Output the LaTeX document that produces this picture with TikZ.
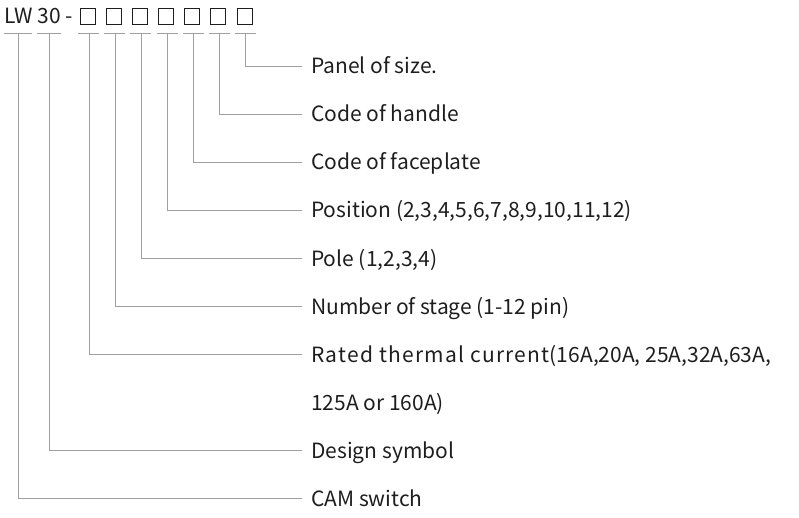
\documentclass[tikz,border=0pt]{standalone}
\usepackage{fontspec}
\setmainfont{Noto Sans CJK SC}
\definecolor{lineg}{HTML}{A0A0A0}
\definecolor{txt}{HTML}{1E1E1E}
\begin{document}
\begin{tikzpicture}[x=1pt,y=-1pt,
  conn/.style={draw=lineg,line width=0.9pt},
  ul/.style={draw=lineg,line width=0.9pt},
  bx/.style={draw=txt,line width=0.9pt},
  lab/.style={anchor=base west,inner sep=0pt,text=txt,font=\fontsize{21}{24}\selectfont}]
\useasboundingbox (0,0) rectangle (799,518);
% header
\node[lab] (hd) at (4,24) {LW 30 -};
\foreach \i in {1,...,7}{
  \pgfmathsetmacro\bxl{80+26.17*(\i-1)}
  \draw[bx] (\bxl,8.5) rectangle ++(15,15.5);
}
% underlines
\draw[ul] (4,33) -- (32,33);
\draw[ul] (37,33) -- (61,33);
\foreach \i in {1,...,7}{
  \pgfmathsetmacro\cx{88.5+26.17*(\i-1)}
  \draw[ul] (\cx-10.5,33) -- (\cx+10.5,33);
}
% tap points
\coordinate (uLW) at (18,33);
\coordinate (u30) at (49,33);
\foreach \i/\n in {1/a,2/b,3/c,4/d,5/e,6/f,7/g}{
  \pgfmathsetmacro\cx{89+26.1*(\i-1)}
  \coordinate (u\n) at (\cx,33);
}
% label ends
\foreach \n/\y in {g/66.5,f/114.5,e/162.5,d/210.5,c/258.5,b/306.5,a/354.5,LW/498.5,30/450.5}{
  \coordinate (e\n) at (302,\y);
}
\node[lab] (tg) at (311,74) {Panel of size.};
\node[lab] (tf) at (311,122) {Code of handle};
\node[lab] (te) at (311,170) {Code of faceplate};
\node[lab] (td) at (311,218) {Position (2,3,4,5,6,7,8,9,10,11,12)};
\node[lab] (tc) at (311,266) {Pole (1,2,3,4)};
\node[lab] (tb) at (311,314) {Number of stage (1-12 pin)};
\node[lab] (ta) at (311,362) {{\addfontfeature{LetterSpace=6}Rated thermal current}(16A,20A, 25A,32A,63A,};
\node[lab] (ta2) at (311,410) {125A or 160A)};
\node[lab] (t30) at (311,458) {Design symbol};
\node[lab] (tLW) at (311,506) {CAM switch};
\foreach \n in {a,b,c,d,e,f,g,30,LW}{
  \draw[conn] (u\n) |- (e\n);
}
\end{tikzpicture}
\end{document}
